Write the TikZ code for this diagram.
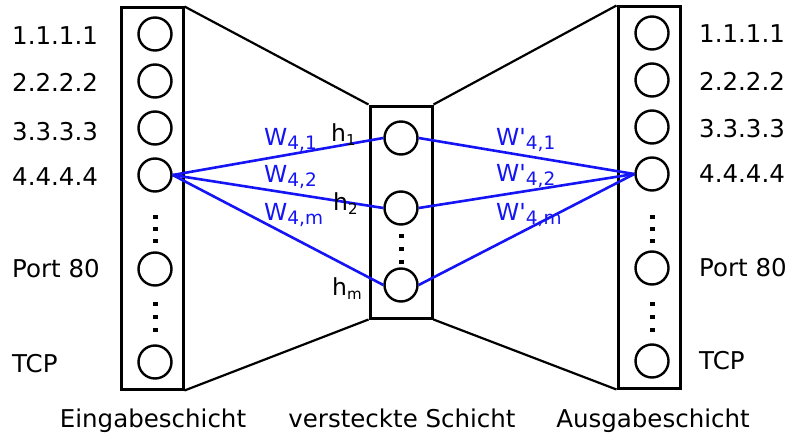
\documentclass[tikz,border=0pt]{standalone}
\usepackage{fontspec}
\setmainfont{DejaVu Sans}
\definecolor{weightBlue}{RGB}{20,20,245}
\newcommand{\lowidx}[2][18.5]{\raisebox{-0.34ex}{\fontsize{#1}{#1}\selectfont #2}}

\begin{document}
\begin{tikzpicture}[x=1pt, y=-1pt,
    neuron/.style={draw, circle, line width=2.4pt, minimum size=33pt, inner sep=0pt},
    layerbox/.style={draw, line width=3pt, inner sep=0pt, minimum width=62pt},
    inputlabel/.style={anchor=base west, inner sep=0pt, font=\fontsize{24.5}{28}\selectfont},
    hlabel/.style={anchor=base west, inner sep=0pt, font=\fontsize{23.5}{26}\selectfont},
    wlabel/.style={anchor=base west, inner sep=0pt, text=weightBlue, font=\fontsize{23.5}{27}\selectfont},
    weight/.style={weightBlue, line width=2.6pt}]
    \useasboundingbox (0,0) rectangle (790,436);
    % layers
    \node[layerbox, minimum height=381pt] (inbox) at (152,198.5) {};
    \node[layerbox, minimum height=212pt] (hidbox) at (401,212) {};
    \node[layerbox, minimum height=381pt] (outbox) at (649,197.5) {};
    \draw[line width=2.2pt] (inbox.north east) -- (hidbox.north west);
    \draw[line width=2.2pt] (inbox.south east) -- (hidbox.south west);
    \draw[line width=2.2pt] (hidbox.north east) -- (outbox.north west);
    \draw[line width=2.2pt] (hidbox.south east) -- (outbox.south west);
    % neurons
    \foreach \i/\y in {1/34,2/81,3/128,4/175,5/269,6/362} {
        \node[neuron] (in\i) at (155,\y) {};
        \node[neuron] (out\i) at (652,\y-1) {};
    }
    \foreach \i/\y in {1/138,2/208,3/285}
        \node[neuron] (hid\i) at (401,\y) {};
    % dots
    \foreach \y in {217,229,241,304,317,330} {
        \fill (153,\y-2.5) rectangle ++(4.5,4.5);
        \fill (650,\y-2.5) rectangle ++(4.5,4.5);
    }
    \foreach \y in {236,249,262}
        \fill (399,\y-2.5) rectangle ++(4.5,4.5);
    % weights
    \foreach \i in {1,2,3} {
        \draw[weight] (in4.east) -- (hid\i.west);
        \draw[weight] (hid\i.east) -- (out4.west);
    }
    % labels
    \foreach \txt/\yl/\yr in {1.1.1.1/45/43, 2.2.2.2/92/90, 3.3.3.3/140/137,
                              4.4.4.4/185/182, Port 80/277/276, TCP/372/369} {
        \node[inputlabel] at (12,\yl) {\txt};
        \node[inputlabel] at (699,\yr) {\txt};
    }
    \node[hlabel] (h1) at (331,141) {h\lowidx[15]{1}};
    \node[hlabel] (h2) at (333,210) {h\lowidx[15]{2}};
    \node[hlabel] (hm) at (332,295) {h\lowidx[15]{m}};
    \node[wlabel] (w1) at (264,145) {W\lowidx{4,1}};
    \node[wlabel] (w2) at (264,182) {W\lowidx{4,2}};
    \node[wlabel] (wm) at (264,220) {W\lowidx{4,m}};
    \node[wlabel] (v1) at (496,145) {W\textquotesingle\lowidx{4,1}};
    \node[wlabel] (v2) at (496,181) {W\textquotesingle\lowidx{4,2}};
    \node[wlabel] (vm) at (496,220) {W\textquotesingle\lowidx{4,m}};
    \node[inputlabel, anchor=base] (inname) at (153,427) {Eingabeschicht};
    \node[inputlabel, anchor=base] (hidname) at (402,427) {versteckte Schicht};
    \node[inputlabel, anchor=base] (outname) at (653,427) {Ausgabeschicht};
\end{tikzpicture}
\end{document}
